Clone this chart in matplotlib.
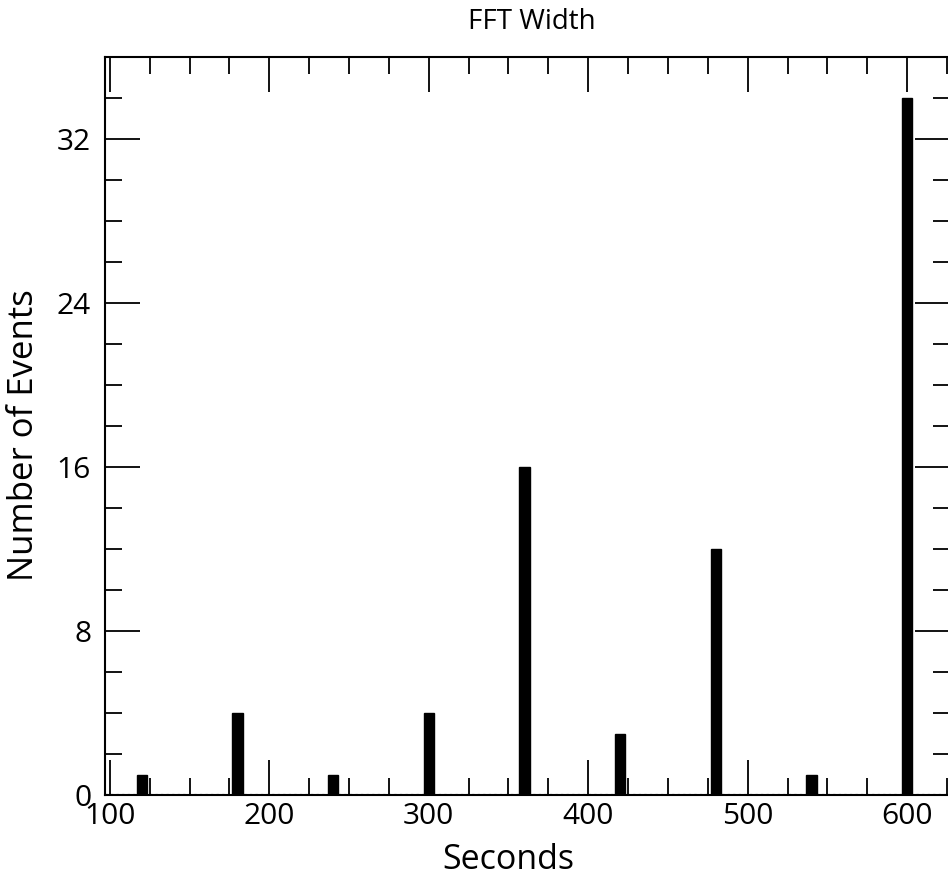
import matplotlib.pyplot as plt
from matplotlib.ticker import MultipleLocator

# histogram of FFT width (seconds) vs number of events
seconds = [120, 180, 240, 300, 360, 420, 480, 540, 600]
events = [1, 4, 1, 4, 16, 3, 12, 1, 34]

plt.rcParams['font.family'] = ['Open Sans', 'DejaVu Sans']

fig = plt.figure(figsize=(9.48, 8.82), dpi=100)
ax = fig.add_axes([0.1108, 0.0986, 0.8915, 0.8368])

# dotted zero line of the histogram
ax.plot([97, 627], [0.05, 0.05], color='black', linestyle=(0, (2, 3)), linewidth=0.8)
ax.bar(seconds, events, width=6.5, color='black', edgecolor='black', linewidth=1)

ax.set_xlim(97, 627)
ax.set_ylim(0, 36)
ax.xaxis.set_major_locator(MultipleLocator(100))
ax.xaxis.set_minor_locator(MultipleLocator(25))
ax.yaxis.set_major_locator(MultipleLocator(8))
ax.yaxis.set_minor_locator(MultipleLocator(2))

ax.tick_params(which='both', direction='in', top=True, right=True, width=1.3, labelsize=21.5)
ax.tick_params(which='major', length=25)
ax.tick_params(which='minor', length=12.5)
ax.tick_params(axis='x', pad=5)
ax.tick_params(axis='y', pad=10)
for s in ax.spines.values():
    s.set_linewidth(1.5)

ax.set_xlabel('Seconds', fontsize=24.5)
ax.xaxis.set_label_coords(0.477, -0.065)
ax.set_ylabel('Number of Events', fontsize=25)
ax.yaxis.set_label_coords(-0.076, 0.488)
ax.set_title('FFT Width', fontsize=20, pad=20, x=0.505)

plt.savefig('out.png', dpi=100)
